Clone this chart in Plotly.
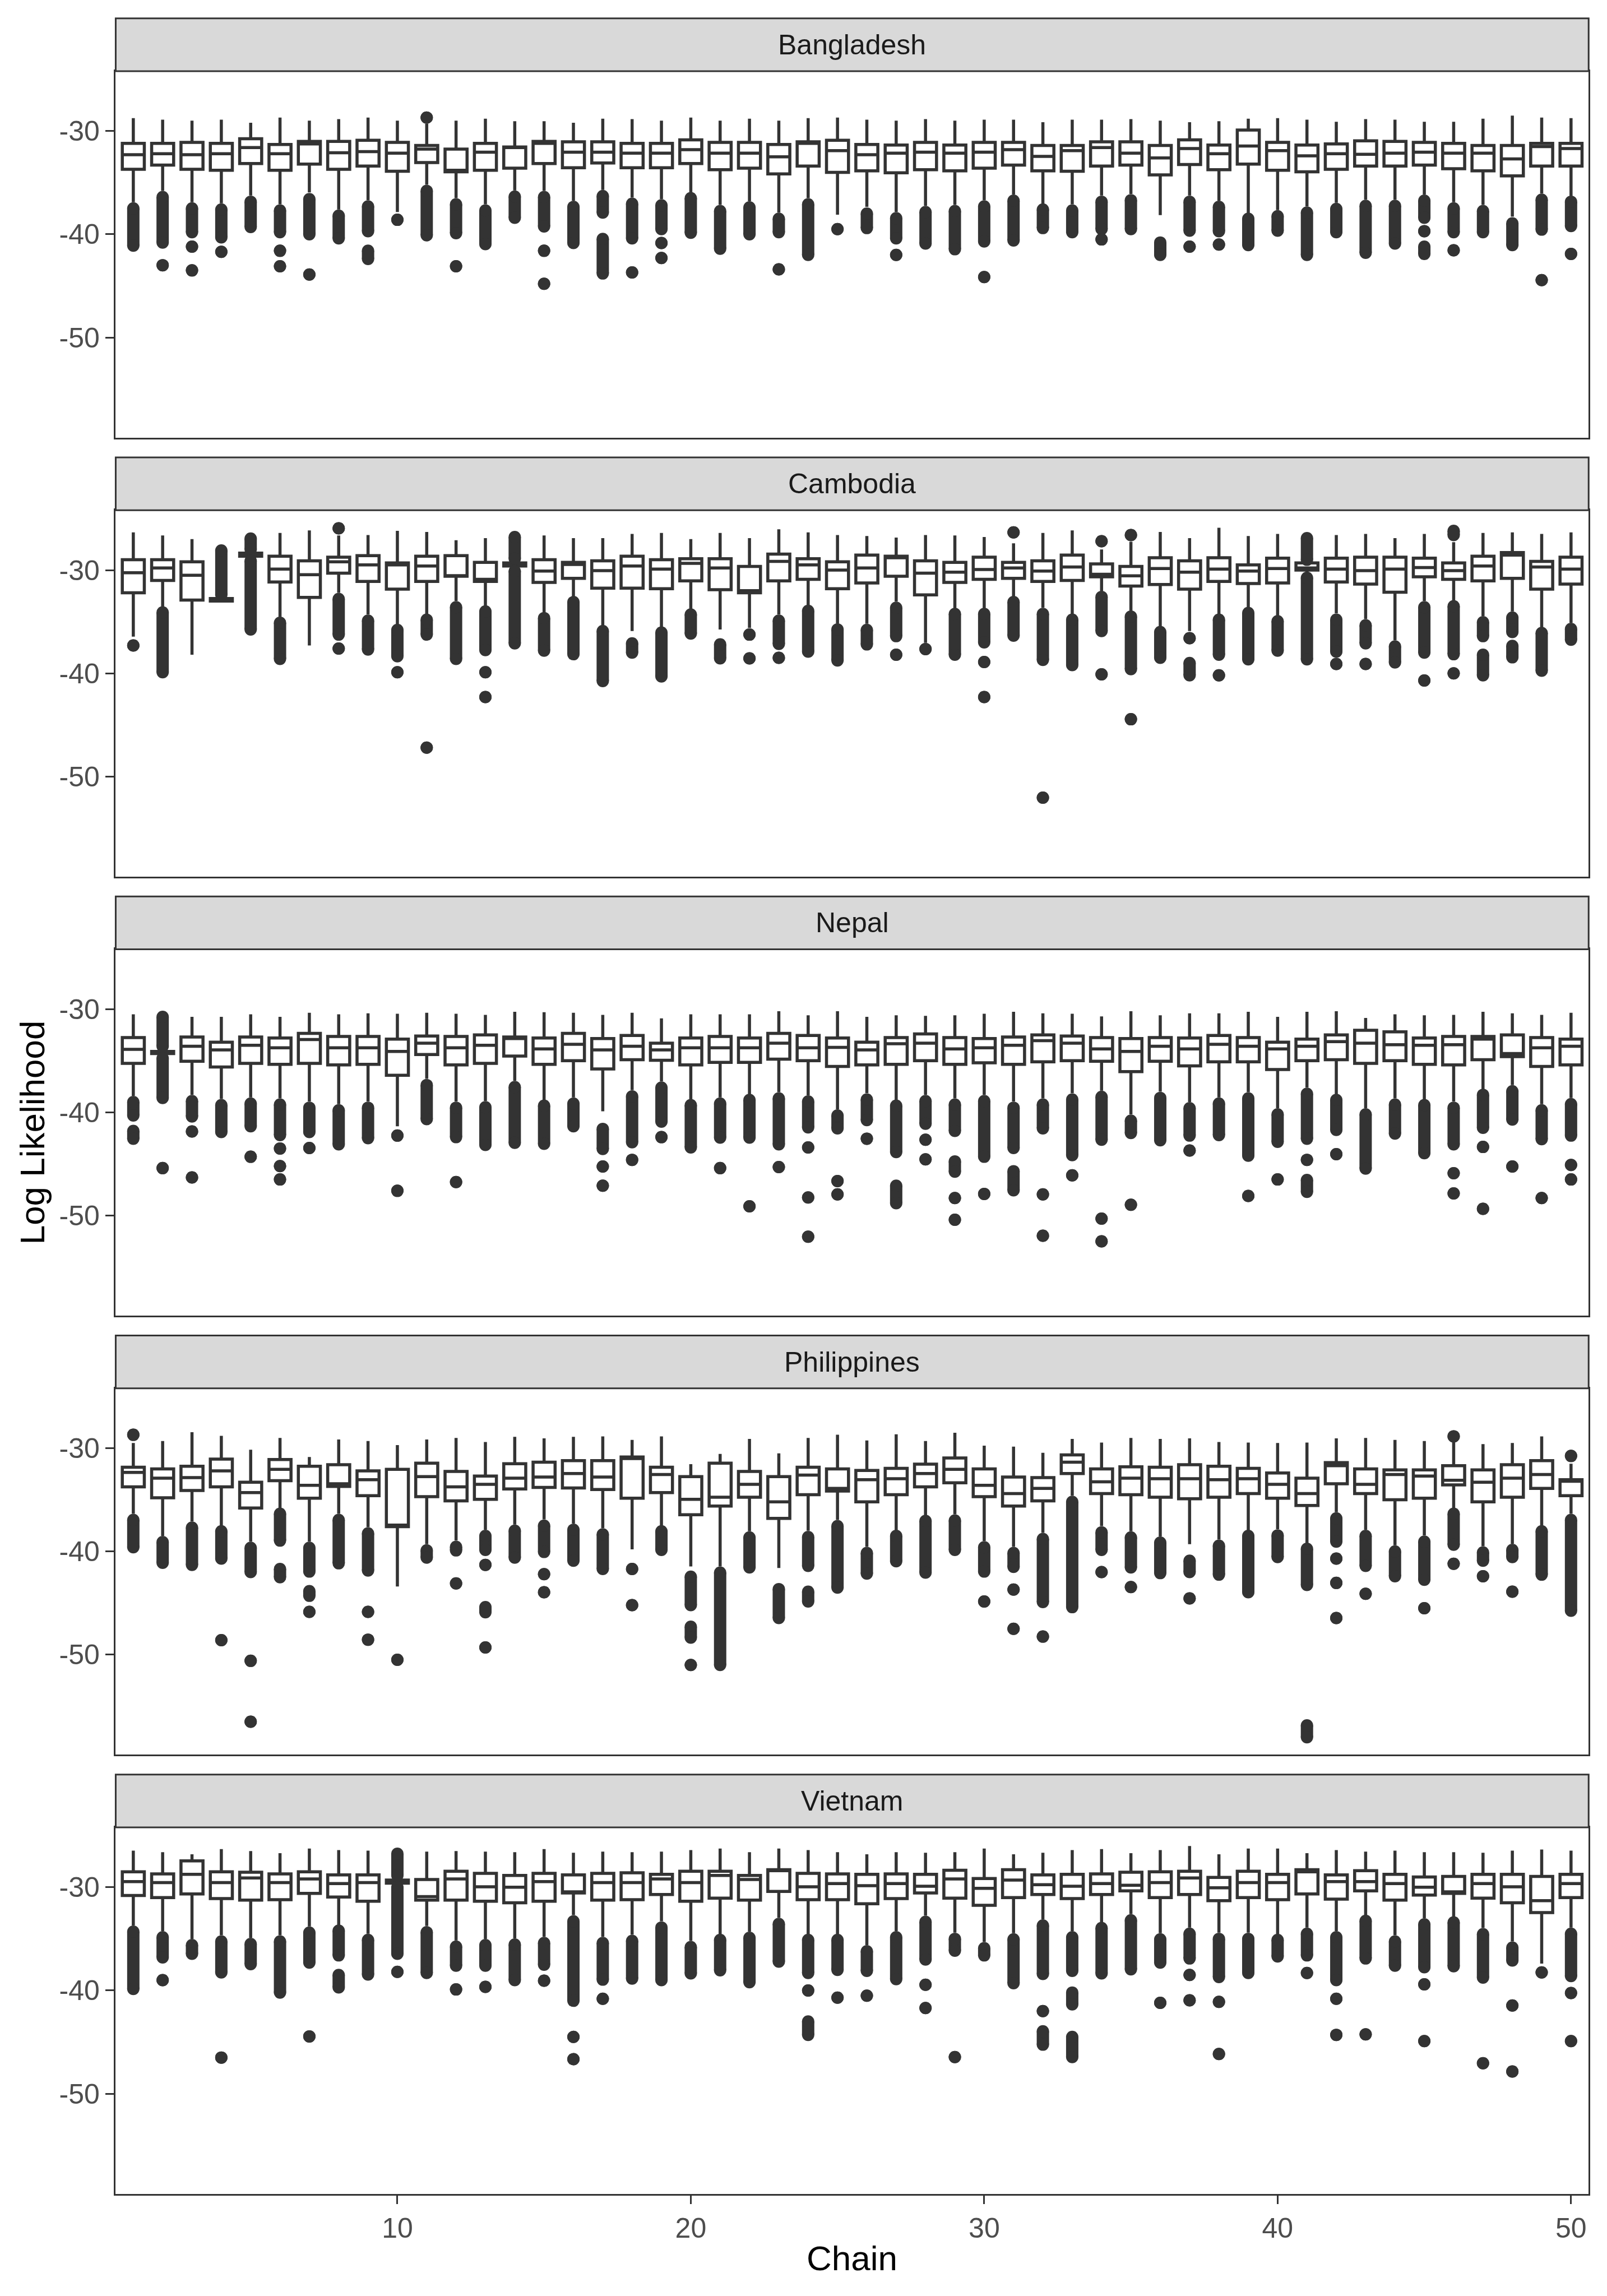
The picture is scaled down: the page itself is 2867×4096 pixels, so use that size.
import plotly.graph_objects as go

CHAINS = list(range(1, 51))
COUNTRIES = ["Bangladesh", "Cambodia", "Nepal", "Philippines", "Vietnam"]
X_TICKS = [10, 20, 30, 40, 50]
Y_TICKS = [-30, -40, -50]
Y_TICK_TEXT = ["-30", "-40", "-50"]

# ---------------- Bangladesh ----------------
BGD_HI = [-28.75,-28.9,-29.0,-28.9,-29.2,-28.7,-29.0,-28.85,-28.7,-29.0,
          -29.3,-29.0,-28.8,-29.05,-29.05,-29.2,-28.8,-28.85,-29.0,-28.7,
          -29.0,-28.8,-29.0,-28.75,-28.7,-28.9,-29.0,-28.85,-29.0,-28.9,
          -28.9,-29.15,-28.9,-28.9,-28.85,-29.0,-29.15,-29.05,-28.8,-28.75,
          -28.9,-29.1,-28.85,-28.9,-29.1,-29.1,-28.8,-28.5,-28.7,-28.75]
BGD_Q3 = [-31.2,-31.2,-31.1,-31.2,-30.75,-31.3,-31.0,-31.0,-30.9,-31.1,
          -31.4,-31.75,-31.2,-31.55,-31.0,-31.05,-31.05,-31.2,-31.2,-30.85,
          -31.1,-31.1,-31.3,-31.05,-30.9,-31.3,-31.35,-31.1,-31.35,-31.1,
          -31.1,-31.4,-31.4,-31.05,-31.05,-31.4,-30.85,-31.35,-29.9,-31.1,
          -31.35,-31.25,-30.95,-31.0,-31.1,-31.2,-31.4,-31.4,-31.2,-31.2]
BGD_MED = [-32.3,-32.2,-32.3,-32.2,-31.6,-32.2,-31.25,-32.1,-32.0,-32.15,
           -31.75,-33.8,-32.05,-31.6,-31.2,-32.05,-32.05,-32.15,-32.15,-31.8,
           -32.15,-32.15,-32.5,-31.2,-31.9,-32.3,-32.15,-32.05,-32.15,-32.05,
           -31.8,-32.45,-31.9,-31.6,-32.15,-32.6,-31.7,-32.2,-31.45,-31.9,
           -32.4,-32.2,-32.25,-32.15,-32.05,-32.15,-32.15,-32.7,-31.5,-31.7]
BGD_Q1 = [-33.7,-33.3,-33.7,-33.8,-33.15,-33.8,-33.2,-33.7,-33.4,-33.9,
          -33.05,-33.95,-33.8,-33.6,-33.15,-33.55,-33.1,-33.55,-33.55,-33.15,
          -33.75,-33.6,-34.15,-33.4,-34.0,-33.85,-34.05,-33.75,-33.85,-33.6,
          -33.3,-33.85,-33.9,-33.4,-33.3,-34.25,-33.25,-33.75,-33.2,-33.8,
          -33.95,-33.7,-33.4,-33.4,-33.3,-33.65,-33.85,-34.35,-33.4,-33.4]
BGD_LO = [-36.9,-35.8,-36.9,-37.0,-36.25,-37.1,-35.95,-37.6,-36.7,-37.85,
          -35.2,-36.5,-37.1,-35.75,-35.8,-36.75,-35.7,-36.45,-36.6,-35.95,
          -37.15,-36.8,-37.9,-36.5,-38.1,-37.35,-37.85,-37.25,-37.15,-36.7,
          -36.15,-37.05,-37.1,-36.25,-36.1,-38.15,-36.25,-36.75,-37.95,-37.65,
          -37.3,-36.95,-36.65,-36.65,-36.15,-36.9,-37.15,-38.3,-36.05,-36.3]
# outliers: (chain, highest, lowest) of each run of overlapping points
BGD_OUT = [
    (1,-37.5,-41.1),(2,-36.4,-40.8),(2,-43.0,-43.0),
    (3,-37.5,-39.8),(3,-41.2,-41.2),(3,-43.5,-43.5),(4,-37.6,-40.3),(4,-41.7,-41.7),
    (5,-36.85,-39.3),(6,-37.7,-39.8),(6,-41.6,-41.6),(6,-43.1,-43.1),
    (7,-36.6,-40.0),(7,-43.9,-43.9),(8,-38.2,-40.4),(9,-37.3,-39.7),(9,-41.6,-42.4),
    (10,-38.6,-38.6),(11,-28.7,-28.7),(11,-35.8,-40.1),(12,-37.1,-39.9),(12,-43.1,-43.1),
    (13,-37.7,-40.95),(14,-36.35,-38.4),(15,-36.4,-39.25),(15,-41.6,-41.6),(15,-44.8,-44.8),
    (16,-37.35,-40.85),(17,-36.3,-37.9),(17,-40.45,-43.8),(18,-37.05,-40.4),(18,-43.7,-43.7),
    (19,-37.2,-39.5),(19,-40.85,-40.85),(19,-42.3,-42.3),(20,-36.5,-39.85),
    (21,-37.75,-41.4),(22,-37.4,-40.0),(23,-38.5,-39.8),(23,-43.4,-43.4),
    (24,-37.1,-42.0),(25,-39.5,-39.5),(26,-38.0,-39.4),(27,-38.45,-40.4),(27,-42.0,-42.0),
    (28,-37.85,-40.9),(29,-37.75,-41.45),(30,-37.3,-40.7),(30,-44.15,-44.15),
    (31,-36.75,-40.6),(32,-37.6,-39.4),(33,-37.7,-39.8),(34,-36.85,-39.5),(34,-40.5,-40.5),
    (35,-36.7,-39.5),(36,-40.8,-42.0),(37,-36.85,-39.65),(37,-41.2,-41.2),
    (38,-37.35,-39.7),(38,-41.0,-41.0),(39,-38.5,-41.05),(40,-38.25,-39.65),
    (41,-37.9,-42.0),(42,-37.55,-39.8),(43,-37.25,-41.8),(44,-37.25,-40.9),
    (45,-36.75,-38.4),(45,-39.7,-39.7),(45,-41.2,-41.9),(46,-37.5,-39.8),(46,-41.55,-41.55),
    (47,-37.75,-39.8),(48,-38.95,-41.05),(49,-36.65,-39.55),(49,-44.45,-44.45),
    (50,-36.85,-39.2),(50,-41.9,-41.9),
]

# ---------------- Cambodia ----------------
KHM_HI = [-26.35,-26.65,-27.0,-32.6,-28.2,-26.4,-26.15,-26.65,-26.6,-26.2,
          -26.3,-27.1,-26.9,-29.2,-26.65,-26.9,-26.9,-26.5,-26.4,-27.0,
          -26.4,-26.9,-26.05,-26.35,-26.6,-26.7,-26.85,-26.6,-26.65,-26.8,
          -27.4,-26.4,-26.15,-28.0,-27.25,-26.3,-26.9,-25.9,-26.7,-26.5,
          -29.15,-26.6,-26.5,-26.9,-26.5,-27.3,-26.4,-26.35,-26.5,-26.35]
KHM_Q3 = [-29.0,-29.0,-29.2,-32.75,-28.35,-28.65,-29.1,-28.75,-28.6,-29.3,
          -28.65,-28.6,-29.25,-29.3,-29.0,-29.25,-29.1,-28.65,-29.0,-28.9,
          -28.9,-29.65,-28.45,-28.9,-29.2,-28.55,-28.65,-29.1,-29.25,-28.75,
          -29.25,-29.1,-28.55,-29.4,-29.65,-28.8,-29.1,-28.8,-29.5,-28.85,
          -29.3,-28.85,-28.75,-28.75,-28.85,-29.3,-28.65,-28.3,-29.15,-28.75]
KHM_MED = [-30.25,-29.8,-30.5,-32.85,-28.5,-29.9,-30.45,-29.2,-29.5,-29.5,
           -29.6,-30.55,-30.9,-29.45,-30.1,-29.45,-30.05,-29.6,-29.9,-29.35,
           -29.8,-32.0,-29.15,-29.5,-30.0,-29.8,-28.8,-30.3,-30.2,-29.95,
           -29.8,-30.1,-29.7,-30.4,-30.55,-29.85,-30.2,-29.9,-30.1,-29.85,
           -29.8,-29.9,-30.05,-29.9,-29.75,-30.05,-29.6,-28.55,-29.7,-29.9]
KHM_Q1 = [-32.2,-31.0,-32.9,-33.0,-28.65,-31.15,-32.65,-30.3,-31.1,-31.85,
          -31.1,-30.6,-31.1,-29.6,-31.2,-30.8,-31.75,-31.75,-31.8,-31.05,
          -31.9,-32.2,-31.05,-30.9,-31.8,-31.25,-30.6,-32.4,-31.2,-30.9,
          -30.8,-31.1,-31.0,-30.65,-31.55,-31.4,-31.85,-31.1,-31.3,-31.25,
          -30.0,-31.15,-31.35,-32.15,-30.65,-30.9,-31.05,-30.8,-31.85,-31.35]
KHM_LO = [-36.45,-33.55,-38.2,-33.1,-28.8,-34.55,-37.3,-32.2,-34.3,-35.25,
          -34.25,-33.0,-33.45,-29.7,-34.1,-32.6,-35.35,-35.9,-35.5,-33.75,
          -35.75,-35.6,-34.3,-33.4,-35.2,-35.2,-33.05,-37.05,-33.7,-33.7,
          -32.55,-33.65,-34.25,-32.05,-33.95,-35.45,-35.9,-34.25,-33.6,-34.4,
          -30.3,-34.2,-34.75,-36.8,-33.0,-32.95,-34.45,-34.0,-35.55,-35.1]
KHM_OUT = [
    (1,-37.3,-37.3),(2,-34.1,-39.9),(4,-28.1,-32.4),(5,-26.95,-28.0),(5,-29.1,-35.75),
    (6,-35.1,-38.6),(8,-25.95,-25.95),(8,-32.8,-36.25),(8,-37.6,-37.6),(9,-34.9,-37.7),
    (10,-35.8,-38.35),(10,-39.9,-39.9),(11,-34.8,-36.25),(11,-47.2,-47.2),(12,-33.6,-38.6),
    (13,-34.0,-37.75),(13,-39.9,-39.9),(13,-42.3,-42.3),(14,-26.8,-28.9),(14,-30.1,-37.1),
    (15,-34.65,-37.8),(16,-33.1,-38.15),(17,-35.9,-40.75),(18,-37.1,-38.0),(19,-36.05,-40.3),
    (20,-34.3,-36.15),(21,-37.2,-38.55),(22,-36.25,-36.25),(22,-38.55,-38.55),
    (23,-34.9,-37.15),(23,-38.5,-38.5),(24,-33.95,-37.9),(25,-35.75,-38.75),
    (26,-35.8,-37.2),(27,-33.65,-36.4),(27,-38.2,-38.2),(28,-37.65,-37.65),(29,-34.25,-38.2),
    (30,-34.25,-37.0),(30,-38.9,-38.9),(30,-42.3,-42.3),(31,-26.35,-26.35),(31,-33.1,-36.35),
    (32,-34.25,-38.7),(32,-52.05,-52.05),(33,-34.8,-39.2),(34,-27.2,-27.2),(34,-32.6,-35.9),
    (34,-40.1,-40.1),(35,-26.6,-26.6),(35,-34.5,-39.6),(35,-44.45,-44.45),(36,-36.0,-38.5),
    (37,-36.6,-36.6),(37,-39.0,-40.2),(38,-34.8,-38.2),(38,-40.2,-40.2),(39,-34.15,-38.65),
    (40,-34.95,-37.8),(41,-26.9,-29.0),(41,-30.75,-38.65),(42,-34.8,-37.9),(42,-39.1,-39.1),
    (43,-35.35,-37.1),(43,-39.1,-39.1),(44,-37.4,-38.95),(45,-33.6,-38.0),(45,-40.7,-40.7),
    (46,-26.2,-26.6),(46,-33.5,-38.15),(46,-40.0,-40.0),(47,-35.05,-36.4),(47,-38.2,-40.2),
    (48,-34.6,-36.0),(48,-37.35,-38.45),(49,-36.1,-39.75),(50,-35.7,-36.75),
]

# ---------------- Nepal ----------------
NPL_HI = [-30.5,-33.9,-30.75,-30.75,-30.5,-30.75,-30.35,-30.5,-30.4,-30.45,
          -30.35,-30.45,-30.55,-30.25,-30.3,-30.35,-30.55,-30.35,-30.9,-30.5,
          -30.5,-30.5,-30.2,-30.6,-30.2,-30.75,-30.6,-30.65,-30.6,-30.45,
          -30.25,-30.4,-30.45,-30.7,-30.2,-30.6,-30.4,-30.4,-30.25,-30.75,
          -30.25,-30.2,-30.85,-30.5,-30.6,-30.55,-30.25,-30.4,-30.55,-30.35]
NPL_Q3 = [-32.75,-34.1,-32.7,-33.2,-32.7,-32.8,-32.35,-32.65,-32.65,-32.9,
          -32.6,-32.65,-32.5,-32.7,-32.8,-32.35,-32.85,-32.55,-33.3,-32.8,
          -32.65,-32.8,-32.35,-32.55,-32.8,-33.2,-32.75,-32.4,-32.75,-32.85,
          -32.7,-32.5,-32.6,-32.75,-32.85,-32.75,-32.8,-32.55,-32.75,-33.2,
          -32.9,-32.5,-32.05,-32.2,-32.8,-32.65,-32.65,-32.5,-32.75,-32.9]
NPL_MED = [-33.9,-34.2,-33.6,-33.95,-33.5,-33.75,-32.95,-33.75,-33.75,-34.1,
           -33.3,-33.75,-33.5,-32.85,-33.85,-33.4,-33.95,-33.6,-33.95,-33.75,
           -33.75,-33.75,-33.3,-33.75,-33.7,-33.95,-33.35,-33.3,-33.85,-33.75,
           -33.5,-33.05,-33.3,-33.85,-34.1,-33.6,-33.85,-33.4,-33.6,-33.85,
           -33.6,-33.15,-33.3,-33.45,-33.5,-33.45,-32.9,-34.3,-33.75,-33.6]
NPL_Q1 = [-35.25,-34.3,-35.05,-35.6,-35.25,-35.35,-35.25,-35.4,-35.35,-36.4,
          -34.4,-35.4,-35.25,-34.55,-35.35,-35.0,-35.8,-34.9,-34.95,-35.4,
          -35.15,-35.15,-34.85,-35.0,-35.55,-35.4,-35.35,-35.0,-35.35,-35.2,
          -35.35,-35.1,-35.0,-35.05,-36.05,-35.05,-35.5,-35.1,-35.1,-35.85,
          -35.0,-34.9,-35.25,-35.0,-35.35,-35.4,-34.9,-34.6,-35.55,-35.4]
NPL_LO = [-38.4,-34.5,-38.3,-38.7,-38.55,-38.65,-38.95,-39.2,-38.95,-41.35,
          -36.75,-38.95,-38.9,-36.95,-38.8,-38.55,-39.9,-37.85,-37.0,-38.75,
          -38.55,-38.25,-38.05,-38.35,-39.7,-38.15,-38.8,-38.3,-38.65,-38.3,
          -38.95,-38.65,-38.15,-37.9,-40.2,-38.0,-39.0,-38.55,-38.05,-39.6,
          -37.6,-38.25,-39.6,-38.65,-38.75,-38.95,-37.75,-37.35,-39.2,-38.6]
NPL_OUT = [
    (1,-39.0,-40.3),(1,-41.8,-42.55),(2,-30.75,-33.6),(2,-34.75,-38.6),(2,-45.4,-45.4),
    (3,-38.9,-40.4),(3,-41.85,-41.85),(3,-46.3,-46.3),(4,-39.3,-41.9),(5,-39.15,-41.35),
    (5,-44.3,-44.3),(6,-39.25,-42.2),(6,-43.5,-43.5),(6,-45.2,-45.2),(6,-46.5,-46.5),
    (7,-39.55,-41.9),(7,-43.45,-43.45),(8,-39.8,-43.1),(9,-39.55,-42.5),(10,-42.25,-42.25),
    (10,-47.6,-47.6),(11,-37.35,-40.65),(12,-39.55,-42.4),(12,-46.75,-46.75),(13,-39.5,-43.15),
    (14,-37.55,-42.95),(15,-39.35,-43.05),(16,-39.15,-41.35),(17,-41.6,-43.55),
    (17,-45.25,-45.25),(17,-47.1,-47.1),(18,-38.45,-42.9),(18,-44.6,-44.6),(19,-37.6,-40.9),
    (19,-42.4,-42.4),(20,-39.3,-43.4),(21,-39.15,-42.45),(21,-45.4,-45.4),(22,-38.8,-42.45),
    (22,-49.1,-49.1),(23,-38.65,-43.1),(23,-45.3,-45.3),(24,-38.95,-41.45),(24,-43.4,-43.4),
    (24,-48.25,-48.25),(24,-52.05,-52.05),(25,-40.3,-41.55),(25,-46.65,-46.65),
    (25,-47.95,-47.95),(26,-38.75,-40.75),(26,-42.55,-42.55),(27,-39.35,-43.85),
    (27,-47.1,-48.8),(28,-38.9,-41.1),(28,-42.65,-42.65),(28,-44.55,-44.55),
    (29,-39.25,-41.8),(29,-44.75,-45.75),(29,-48.3,-48.3),(29,-50.4,-50.4),(30,-38.9,-44.3),
    (30,-47.9,-47.9),(31,-39.55,-43.45),(31,-45.7,-47.55),(32,-39.25,-41.55),
    (32,-47.95,-47.95),(32,-51.95,-51.95),(33,-38.75,-44.15),(33,-46.1,-46.1),
    (34,-38.5,-42.65),(34,-50.3,-50.3),(34,-52.5,-52.5),(35,-40.8,-42.0),(35,-48.95,-48.95),
    (36,-38.6,-42.7),(37,-39.6,-42.25),(37,-43.7,-43.7),(38,-39.15,-42.2),(39,-38.65,-44.2),
    (39,-48.1,-48.1),(40,-40.2,-42.85),(40,-46.5,-46.5),(41,-38.2,-42.55),(41,-44.6,-44.6),
    (41,-46.55,-47.7),(42,-38.8,-41.7),(42,-44.05,-44.05),(43,-40.2,-45.45),(44,-39.25,-42.05),
    (45,-39.3,-43.95),(46,-39.55,-43.1),(46,-45.9,-45.9),(46,-47.85,-47.85),(47,-38.3,-41.5),
    (47,-43.35,-43.35),(47,-49.35,-49.35),(48,-37.95,-40.7),(48,-45.25,-45.25),
    (49,-39.8,-42.6),(49,-48.3,-48.3),(50,-39.2,-42.25),(50,-45.1,-45.1),(50,-46.5,-46.5),
]

# ---------------- Philippines ----------------
PHL_HI = [-29.5,-29.3,-28.45,-28.8,-30.15,-29.0,-30.85,-29.15,-29.3,-29.7,
          -29.15,-29.0,-29.4,-28.9,-29.05,-28.9,-28.85,-29.2,-28.85,-31.55,
          -30.55,-29.1,-30.5,-29.0,-28.7,-29.25,-28.65,-29.3,-28.5,-29.75,
          -29.85,-30.45,-29.1,-29.45,-29.0,-29.1,-29.05,-29.4,-29.45,-29.5,
          -29.45,-29.05,-29.0,-29.2,-29.3,-29.35,-29.6,-29.5,-28.85,-31.5]
PHL_Q3 = [-31.85,-32.0,-31.75,-31.05,-33.3,-31.1,-31.75,-31.6,-32.2,-32.05,
          -31.45,-32.25,-32.7,-31.5,-31.35,-31.2,-31.2,-30.85,-31.85,-32.75,
          -31.45,-32.25,-32.75,-31.85,-32.0,-32.15,-31.95,-31.55,-30.95,-32.0,
          -32.8,-32.85,-30.65,-32.0,-31.8,-31.85,-31.6,-31.75,-31.95,-32.4,
          -32.9,-31.4,-32.0,-32.1,-32.1,-31.7,-32.1,-31.6,-31.2,-33.05]
PHL_MED = [-32.35,-32.9,-32.85,-32.2,-34.3,-32.05,-33.6,-33.45,-33.05,-37.45,
           -32.75,-33.75,-33.5,-32.9,-32.8,-32.45,-32.8,-31.0,-32.55,-34.95,
           -34.75,-33.5,-35.2,-32.6,-33.9,-33.05,-32.95,-32.45,-32.05,-33.6,
           -34.4,-33.9,-31.35,-33.25,-32.9,-32.95,-32.95,-33.05,-32.95,-33.5,
           -34.4,-31.7,-33.5,-32.55,-32.7,-33.1,-33.3,-32.9,-32.55,-33.2]
PHL_Q1 = [-33.75,-34.8,-34.1,-33.75,-35.8,-33.15,-34.85,-33.7,-34.6,-37.6,
          -34.7,-35.1,-34.95,-33.95,-33.8,-33.85,-34.0,-34.85,-34.3,-36.45,
          -35.6,-34.75,-36.8,-34.5,-34.15,-35.2,-34.5,-33.75,-33.35,-34.7,
          -35.6,-35.1,-32.45,-34.4,-34.5,-34.75,-34.9,-34.75,-34.4,-34.85,
          -35.55,-33.45,-34.4,-35.0,-34.85,-33.55,-35.2,-34.75,-33.9,-34.6]
PHL_LO = [-36.35,-38.5,-37.1,-37.5,-39.05,-35.8,-39.05,-36.35,-37.65,-43.4,
          -39.3,-38.95,-37.9,-37.4,-36.9,-37.3,-37.75,-39.8,-37.5,-41.45,
          -41.45,-38.05,-41.6,-38.0,-36.95,-39.55,-37.95,-36.5,-36.4,-39.0,
          -39.55,-38.2,-34.6,-37.55,-38.05,-38.55,-39.3,-38.85,-37.95,-37.85,
          -39.2,-36.2,-37.9,-39.4,-38.45,-35.8,-39.5,-39.25,-37.5,-36.35]
PHL_OUT = [
    (1,-28.7,-28.7),(1,-36.95,-39.6),(2,-39.1,-41.1),(3,-37.7,-41.3),(4,-38.05,-40.7),
    (4,-48.6,-48.6),(5,-39.65,-42.0),(5,-50.6,-50.6),(5,-56.5,-56.5),(6,-36.35,-38.95),
    (6,-41.7,-42.5),(7,-39.65,-41.95),(7,-43.85,-44.3),(7,-45.85,-45.85),(8,-36.95,-41.15),
    (9,-38.25,-41.85),(9,-45.85,-45.85),(9,-48.55,-48.55),(10,-50.5,-50.5),(11,-39.9,-40.6),
    (12,-39.55,-39.9),(12,-43.1,-43.1),(13,-38.5,-39.85),(13,-41.3,-41.3),(13,-45.4,-45.9),
    (13,-49.3,-49.3),(14,-38.0,-40.6),(15,-37.5,-40.05),(15,-42.2,-42.2),(15,-43.95,-43.95),
    (16,-37.9,-40.9),(17,-38.35,-41.7),(18,-41.7,-41.7),(18,-45.2,-45.2),(19,-38.05,-39.85),
    (20,-42.45,-45.2),(20,-47.3,-48.35),(20,-51.0,-51.0),(21,-42.05,-51.0),(22,-38.65,-41.55),
    (23,-43.65,-46.45),(24,-38.6,-41.4),(24,-43.9,-44.85),(25,-37.55,-43.5),(26,-40.15,-42.15),
    (27,-38.5,-40.95),(28,-37.05,-42.05),(29,-37.0,-39.85),(30,-39.6,-41.95),(30,-44.85,-44.85),
    (31,-40.15,-41.5),(31,-43.7,-43.7),(31,-47.5,-47.5),(32,-38.8,-44.9),(32,-48.25,-48.25),
    (33,-35.2,-45.4),(34,-38.15,-39.85),(34,-42.0,-42.0),(35,-38.65,-41.55),(35,-43.45,-43.45),
    (36,-39.15,-42.1),(37,-40.9,-42.0),(37,-44.55,-44.55),(38,-39.45,-42.25),(39,-38.5,-43.95),
    (40,-38.45,-40.55),(41,-39.75,-43.25),(41,-56.85,-58.0),(42,-36.8,-39.05),(42,-40.7,-40.7),
    (42,-43.05,-43.05),(42,-46.45,-46.45),(43,-38.5,-41.4),(43,-44.1,-44.1),(44,-40.0,-42.4),
    (45,-39.05,-42.75),(45,-45.5,-45.5),(46,-28.85,-28.85),(46,-36.35,-39.35),(46,-41.2,-41.2),
    (47,-40.1,-40.9),(47,-42.4,-42.4),(48,-39.85,-40.55),(48,-43.9,-43.9),(49,-38.05,-42.25),
    (50,-30.75,-30.75),(50,-36.95,-45.75),
]

# ---------------- Vietnam ----------------
VNM_HI = [-26.45,-26.6,-26.8,-26.3,-26.5,-26.7,-26.25,-26.4,-26.45,-29.2,
          -26.55,-26.5,-26.55,-26.6,-26.3,-26.65,-26.55,-26.6,-26.55,-26.4,
          -26.25,-26.6,-26.25,-26.4,-26.6,-26.8,-26.6,-26.65,-26.6,-26.25,
          -26.8,-26.65,-26.4,-26.3,-26.7,-26.4,-26.0,-26.8,-26.25,-26.25,
          -26.7,-26.4,-26.55,-26.45,-26.6,-26.6,-26.65,-26.45,-26.35,-26.45]
VNM_Q3 = [-28.5,-28.7,-27.45,-28.5,-28.55,-28.7,-28.5,-28.8,-28.8,-29.3,
          -29.25,-28.45,-28.65,-28.85,-28.65,-28.8,-28.65,-28.6,-28.75,-28.45,
          -28.45,-28.85,-28.3,-28.65,-28.7,-28.75,-28.7,-28.75,-28.35,-29.15,
          -28.3,-28.8,-28.75,-28.7,-28.55,-28.5,-28.45,-29.05,-28.45,-28.75,
          -28.3,-28.8,-28.4,-28.75,-29.0,-28.95,-28.75,-28.75,-28.95,-28.75]
VNM_MED = [-29.45,-29.55,-28.75,-29.55,-29.1,-29.55,-29.2,-29.65,-29.55,-29.45,
           -30.9,-29.2,-29.95,-30.0,-29.45,-30.45,-29.55,-29.55,-29.2,-29.55,
           -28.85,-29.25,-28.4,-29.95,-29.65,-29.85,-29.65,-29.9,-29.2,-30.1,
           -29.3,-29.75,-29.9,-29.65,-29.8,-29.55,-29.1,-30.05,-29.55,-29.55,
           -28.5,-29.45,-29.45,-29.65,-30.0,-30.45,-29.65,-29.95,-31.3,-29.65]
VNM_Q1 = [-30.8,-31.0,-30.65,-31.1,-31.25,-31.2,-30.6,-30.95,-31.35,-29.6,
          -31.25,-31.25,-31.35,-31.5,-31.35,-30.55,-31.25,-31.2,-30.7,-31.35,
          -31.05,-31.25,-30.4,-31.2,-31.2,-31.6,-31.1,-30.55,-31.05,-31.75,
          -31.0,-30.7,-31.1,-30.7,-30.35,-31.0,-30.7,-31.3,-31.0,-31.2,
          -30.65,-31.15,-30.35,-31.25,-30.75,-30.6,-31.05,-31.5,-32.45,-31.0]
VNM_LO = [-33.7,-34.25,-35.0,-34.65,-34.9,-34.65,-33.8,-33.65,-34.5,-29.7,
          -33.75,-35.15,-35.0,-34.95,-34.8,-32.7,-34.8,-34.6,-33.3,-35.2,
          -34.55,-34.3,-32.95,-34.55,-34.55,-35.6,-34.25,-32.75,-34.4,-35.3,
          -34.45,-33.1,-34.25,-33.4,-32.6,-34.45,-33.9,-34.4,-34.4,-34.55,
          -33.9,-34.25,-32.7,-34.65,-33.0,-32.85,-33.95,-35.25,-37.4,-33.9]
VNM_OUT = [
    (1,-34.3,-39.85),(2,-34.85,-36.8),(2,-39.0,-39.0),(3,-35.6,-36.45),(4,-35.25,-38.25),
    (4,-46.5,-46.5),(5,-35.5,-37.45),(6,-35.25,-40.2),(7,-34.4,-37.3),(7,-44.45,-44.45),
    (8,-34.2,-36.6),(8,-38.5,-39.7),(9,-35.1,-38.45),(10,-26.75,-28.85),(10,-30.0,-36.45),
    (10,-38.2,-38.2),(11,-34.35,-38.3),(12,-35.75,-37.6),(12,-39.9,-39.9),(13,-35.6,-37.6),
    (13,-39.65,-39.65),(14,-35.55,-39.0),(15,-35.4,-37.5),(15,-39.05,-39.05),(16,-33.3,-41.0),
    (16,-44.5,-44.5),(16,-46.65,-46.65),(17,-35.4,-38.95),(17,-40.8,-40.8),(18,-35.2,-38.85),
    (19,-33.9,-39.0),(20,-35.8,-38.35),(21,-35.1,-38.05),(22,-34.9,-39.2),(23,-33.55,-37.2),
    (24,-35.1,-38.3),(24,-40.0,-40.0),(24,-43.0,-44.3),(25,-35.1,-38.0),(25,-40.7,-40.7),
    (26,-36.2,-38.1),(26,-40.5,-40.5),(27,-34.85,-38.9),(28,-33.35,-37.0),(28,-39.45,-39.45),
    (28,-41.7,-41.7),(29,-35.0,-36.15),(29,-46.45,-46.45),(30,-35.9,-36.6),(31,-35.05,-39.3),
    (32,-33.7,-38.4),(32,-42.0,-42.0),(32,-43.95,-45.25),(33,-34.85,-38.1),(33,-40.2,-41.35),
    (33,-44.5,-46.45),(34,-33.95,-38.35),(35,-33.2,-37.95),(36,-35.05,-37.3),(36,-41.2,-41.2),
    (37,-34.5,-36.9),(37,-38.5,-38.5),(37,-40.95,-40.95),(38,-35.0,-38.7),(38,-41.1,-41.1),
    (38,-46.15,-46.15),(39,-35.0,-38.3),(40,-35.1,-36.7),(41,-34.5,-36.6),(41,-38.3,-38.3),
    (42,-34.85,-39.0),(42,-40.8,-40.8),(42,-44.3,-44.3),(43,-33.25,-36.9),(43,-44.25,-44.25),
    (44,-35.25,-37.6),(45,-33.6,-37.75),(45,-39.4,-39.4),(45,-44.9,-44.9),(46,-33.4,-37.65),
    (47,-34.55,-38.75),(47,-47.05,-47.05),(48,-35.85,-37.1),(48,-41.45,-41.45),
    (48,-47.85,-47.85),(49,-38.25,-38.25),(50,-34.5,-38.6),(50,-40.25,-40.25),(50,-44.9,-44.9),
]

PANELS = [
    (BGD_HI, BGD_Q3, BGD_MED, BGD_Q1, BGD_LO, BGD_OUT),
    (KHM_HI, KHM_Q3, KHM_MED, KHM_Q1, KHM_LO, KHM_OUT),
    (NPL_HI, NPL_Q3, NPL_MED, NPL_Q1, NPL_LO, NPL_OUT),
    (PHL_HI, PHL_Q3, PHL_MED, PHL_Q1, PHL_LO, PHL_OUT),
    (VNM_HI, VNM_Q3, VNM_MED, VNM_Q1, VNM_LO, VNM_OUT),
]

# ---------------- layout (window pixels) ----------------
W, H = 2867, 4096
S = W / 3500.0
PL, PR = 252 * S, 3460 * S
STRIP_TOP0, STRIP_BOT0, PLOT_BOT0, PITCH = 40 * S, 155 * S, 953 * S, 956.2 * S
INK = "#333333"
FONT = "Liberation Sans, Arial, Helvetica, sans-serif"
TICK_FS = 50
TITLE_FS = 62
LW = 5.5
DOT = 22

def py(px):
    return 1 - px / H

fig = go.Figure()
layout = dict(width=W, height=H, margin=dict(l=0, r=0, t=0, b=0),
              paper_bgcolor="white", plot_bgcolor="white", showlegend=False,
              font=dict(family=FONT, size=TICK_FS, color="#4D4D4D"))
shapes, annotations = [], []

for k, (hi, q3, med, q1, lo, out) in enumerate(PANELS):
    n = k + 1
    xa, ya = ("x", "y") if n == 1 else (f"x{n}", f"y{n}")
    st = STRIP_TOP0 + k * PITCH
    sb = STRIP_BOT0 + k * PITCH
    pb = PLOT_BOT0 + k * PITCH
    last = (k == len(PANELS) - 1)

    xs, ys = [], []
    for c, a, b in out:
        xs += [c, c, None]
        ys += [a, b, None]
    fig.add_trace(go.Scatter(x=xs, y=ys, mode="lines+markers", xaxis=xa, yaxis=ya,
                             line=dict(color=INK, width=DOT),
                             marker=dict(size=DOT, color=INK, line=dict(width=0)),
                             hoverinfo="skip", connectgaps=False))
    fig.add_trace(go.Box(x=CHAINS, q1=q1, median=med, q3=q3, lowerfence=lo, upperfence=hi,
                         xaxis=xa, yaxis=ya, boxpoints=False, width=0.75, whiskerwidth=0,
                         fillcolor="white", line=dict(color=INK, width=LW),
                         hoverinfo="skip"))

    layout["xaxis" if n == 1 else f"xaxis{n}"] = dict(
        domain=[PL / W, PR / W], range=[0.4, 50.6], anchor=ya,
        showgrid=False, zeroline=False, showline=True, mirror=True,
        linecolor=INK, linewidth=3,
        tickvals=X_TICKS, ticktext=[str(v) for v in X_TICKS],
        ticks="outside" if last else "", ticklen=15.6, tickwidth=3, tickcolor=INK,
        showticklabels=last, tickfont=dict(size=TICK_FS, color="#4D4D4D", family=FONT))
    layout["yaxis" if n == 1 else f"yaxis{n}"] = dict(
        domain=[py(pb), py(sb)], range=[-59.7, -24.2], anchor=xa,
        showgrid=False, zeroline=False, showline=True, mirror=True,
        linecolor=INK, linewidth=3,
        tickvals=Y_TICKS, ticktext=Y_TICK_TEXT, ticks="outside",
        ticklen=15.6, tickwidth=3, tickcolor=INK,
        tickfont=dict(size=TICK_FS, color="#4D4D4D", family=FONT))

    shapes.append(dict(type="rect", xref="paper", yref="paper",
                       x0=PL / W, x1=PR / W, y0=py(sb), y1=py(st),
                       fillcolor="#D9D9D9", line=dict(color=INK, width=3)))
    annotations.append(dict(text=COUNTRIES[k], xref="paper", yref="paper",
                            x=(PL + PR) / 2 / W, y=py((st + sb) / 2),
                            xanchor="center", yanchor="middle", showarrow=False,
                            font=dict(size=TICK_FS, color="#1A1A1A", family=FONT)))

annotations.append(dict(text="Chain", xref="paper", yref="paper",
                        x=(PL + PR) / 2 / W, y=py(4918 * S),
                        xanchor="center", yanchor="middle", showarrow=False,
                        font=dict(size=TITLE_FS, color="black", family=FONT)))
annotations.append(dict(text="Log Likelihood", xref="paper", yref="paper",
                        x=70 * S / W, y=py(2466 * S), textangle=-90,
                        xanchor="center", yanchor="middle", showarrow=False,
                        font=dict(size=TITLE_FS, color="black", family=FONT)))

layout["shapes"] = shapes
layout["annotations"] = annotations
fig.update_layout(**layout)
fig.write_html("out.html", include_plotlyjs=True, config={"displayModeBar": False})
